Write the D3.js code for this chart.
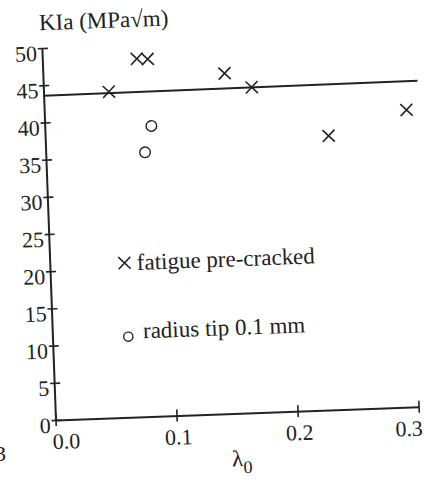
<!DOCTYPE html>
<html>
<head>
<meta charset="utf-8">
<script src="https://cdn.jsdelivr.net/npm/d3@7"></script>
<style>
  body { margin: 0; background: #fff; }
  text { font-family: "Liberation Serif", "Times New Roman", serif; fill: #222; }
</style>
</head>
<body>
<script>
// values
var crossX = [0.054, 0.078, 0.087, 0.150, 0.172, 0.234, 0.299];
var crossY = [43.8, 48.1, 48.0, 45.7, 43.7, 36.8, 39.9];
var circleX = [0.088, 0.082];
var circleY = [39.0, 35.5];
var fitX = [0, 0.309];
var fitY = [43.6, 43.75];
var xTicks = [0, 0.1, 0.2, 0.3];
var yTicks = [0, 5, 10, 15, 20, 25, 30, 35, 40, 45, 50];
var legendLabels = ["fatigue pre-cracked", "radius tip 0.1 mm"];

var svgWidth = 424;
var svgHeight = 481;
var origin = {x: 55.5, y: 420};
var tilt = -2.1; // the scan is slightly rotated

var svg = d3.select("body")
  .append("svg")
  .attr("width", svgWidth)
  .attr("height", svgHeight);

var chartGroup = svg.append("g")
  .attr("transform", `translate(${origin.x}, ${origin.y}) rotate(${tilt})`);

var xScale = d3.scaleLinear().domain([0, 0.3]).range([0, 363.3]);
var yScale = d3.scaleLinear().domain([0, 50]).range([0, -372.2]);

// y axis
var leftAxis = d3.axisLeft(yScale)
  .tickValues(yTicks)
  .tickSizeInner(4)
  .tickSizeOuter(0)
  .tickPadding(3);

var yAxisG = chartGroup.append("g").call(leftAxis);
yAxisG.select(".domain").attr("stroke", "#222").attr("stroke-width", 2);
yAxisG.selectAll(".tick line").attr("x1", 6).attr("stroke", "#222").attr("stroke-width", 1.6);
yAxisG.selectAll(".tick text")
  .attr("font-size", 22)
  .attr("font-family", "Liberation Serif")
  .attr("fill", "#222")
  .attr("x", -5)
  .attr("dy", "0.55em");

// x axis
var bottomAxis = d3.axisBottom(xScale)
  .tickValues(xTicks)
  .tickFormat(d3.format(".1f"))
  .tickSizeInner(6)
  .tickSizeOuter(0);

var xAxisG = chartGroup.append("g").call(bottomAxis);
xAxisG.select(".domain").attr("stroke", "#222").attr("stroke-width", 2);
xAxisG.selectAll(".tick line").attr("y1", -6).attr("stroke", "#222").attr("stroke-width", 1.6);
xAxisG.selectAll(".tick text")
  .attr("font-size", 22)
  .attr("font-family", "Liberation Serif")
  .attr("fill", "#222")
  .attr("y", 29)
  .attr("dy", null)
  .attr("text-anchor", (d, i) => i == 0 ? "start" : (i == xTicks.length - 1 ? "end" : "middle"))
  .attr("x", (d, i) => i == 0 ? -4 : (i == xTicks.length - 1 ? 3 : 1));

// fitted line
var fitData = fitX.map((v, i) => [v, fitY[i]]);
chartGroup.append("path")
  .datum(fitData)
  .attr("fill", "none")
  .attr("stroke", "#222")
  .attr("stroke-width", 2)
  .attr("d", d3.line().x(d => xScale(d[0])).y(d => yScale(d[1])));

// cross markers
var cross = 6;
function crossPath(cx, cy, s) {
  return `M${cx - s},${cy - s}L${cx + s},${cy + s}M${cx - s},${cy + s}L${cx + s},${cy - s}`;
}
chartGroup.selectAll(".cross")
  .data(crossX.map((v, i) => [v, crossY[i]]))
  .enter()
  .append("path")
  .attr("class", "cross")
  .attr("fill", "none")
  .attr("stroke", "#222")
  .attr("stroke-width", 1.6)
  .attr("d", d => crossPath(xScale(d[0]), yScale(d[1]), cross));

// circle markers
chartGroup.selectAll(".ring")
  .data(circleX.map((v, i) => [v, circleY[i]]))
  .enter()
  .append("circle")
  .attr("class", "ring")
  .attr("cx", d => xScale(d[0]))
  .attr("cy", d => yScale(d[1]))
  .attr("r", 5.3)
  .attr("fill", "none")
  .attr("stroke", "#222")
  .attr("stroke-width", 1.4);

// legend
chartGroup.append("path")
  .attr("fill", "none")
  .attr("stroke", "#222")
  .attr("stroke-width", 1.6)
  .attr("d", crossPath(74.7, -154.4, 6));
chartGroup.append("text")
  .attr("x", 87)
  .attr("y", -147)
  .attr("font-size", 23)
  .text(legendLabels[0]);

chartGroup.append("circle")
  .attr("cx", 75.8)
  .attr("cy", -80.6)
  .attr("r", 4.6)
  .attr("fill", "none")
  .attr("stroke", "#222")
  .attr("stroke-width", 1.4);
chartGroup.append("text")
  .attr("x", 90.7)
  .attr("y", -78.4)
  .attr("font-size", 23)
  .text(legendLabels[1]);

// axis titles
chartGroup.append("text")
  .attr("x", -2)
  .attr("y", -390)
  .attr("font-size", 23)
  .text("KIa (MPa√m)");

var xTitle = chartGroup.append("text")
  .attr("x", 175)
  .attr("y", 53)
  .attr("font-size", 23);
xTitle.append("tspan").text("λ");
xTitle.append("tspan").attr("font-size", 18).attr("dy", 7).text("0");

// stray glyph from the neighbouring figure at the page edge
svg.append("text")
  .attr("x", 6)
  .attr("y", 461)
  .attr("text-anchor", "end")
  .attr("font-size", 22)
  .text("3");
</script>
</body>
</html>
